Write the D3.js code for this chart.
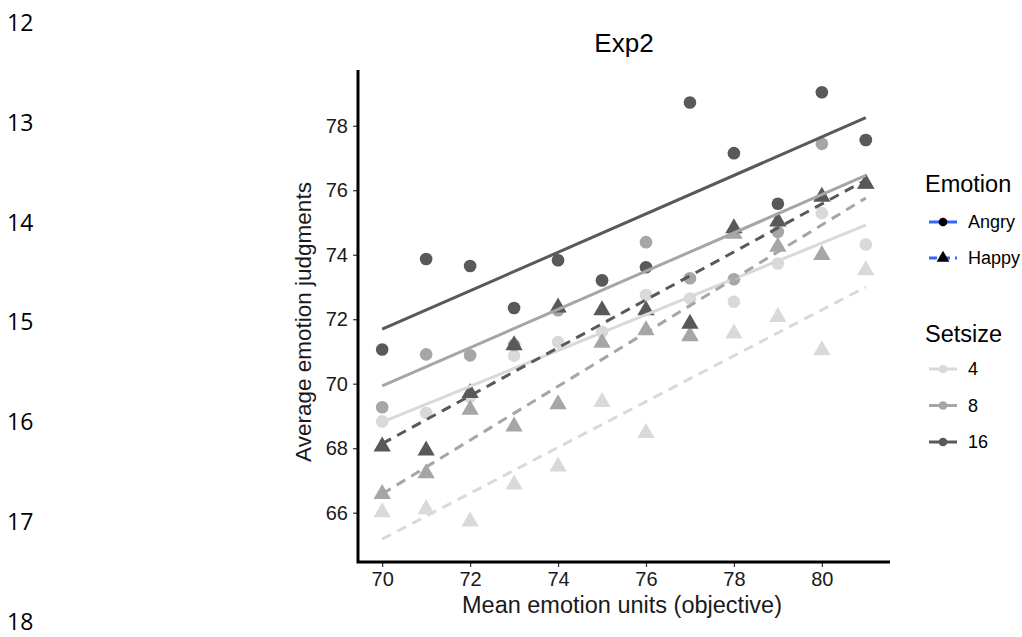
<!DOCTYPE html>
<html>
<head>
<meta charset="utf-8">
<script src="https://cdn.jsdelivr.net/npm/d3@7"></script>
<style>
  body { margin: 0; background: #fff; }
  svg { display: block; font-family: "Liberation Sans", Arial, sans-serif; }
</style>
</head>
<body>
<svg id="chart" width="1022" height="637"></svg>
<script>
// mean emotion units shown on each trial set
const xValues = [70, 71, 72, 73, 74, 75, 76, 77, 78, 79, 80, 81];

// average judgments
const angry4  = [68.83, 69.09, 69.59, 70.87, 71.29, 71.61, 72.75, 72.64, 72.54, 73.73, 75.29, 74.32];
const angry8  = [69.27, 70.91, 70.88, 71.20, 72.28, 73.20, 74.39, 73.27, 73.24, 74.71, 77.44, 77.56];
const angry16 = [71.06, 73.87, 73.65, 72.35, 73.83, 73.21, 73.61, 78.72, 77.15, 75.58, 79.04, 77.56];
const happy4  = [66.01, 66.11, 65.73, 66.87, 67.43, 69.43, 68.47, 71.50, 71.56, 72.07, 71.04, 73.52];
const happy8  = [66.58, 67.22, 69.19, 68.67, 69.36, 71.27, 71.66, 71.47, 74.65, 74.25, 73.99, 76.20];
const happy16 = [68.05, 67.93, 69.71, 71.19, 72.36, 72.28, 72.28, 71.86, 74.82, 75.03, 75.80, 76.20];

// fitted lines (value at x = 70 and at x = 81)
const fitEmotion = ['Angry', 'Angry', 'Angry', 'Happy', 'Happy', 'Happy'];
const fitSetsize = ['4', '8', '16', '4', '8', '16'];
const fitY70 = [68.81, 69.93, 71.69, 65.18, 66.58, 68.14];
const fitY81 = [74.92, 76.46, 78.25, 73.00, 75.76, 76.32];

const setsizes = ['4', '8', '16'];
const emotions = ['Angry', 'Happy'];
const xTicks = [70, 72, 74, 76, 78, 80];
const yTicks = [66, 68, 70, 72, 74, 76, 78];
const pageLines = ['12', '13', '14', '15', '16', '17', '18'];

const series = [
  { emotion: 'Angry', setsize: '4',  values: angry4 },
  { emotion: 'Angry', setsize: '8',  values: angry8 },
  { emotion: 'Angry', setsize: '16', values: angry16 },
  { emotion: 'Happy', setsize: '4',  values: happy4 },
  { emotion: 'Happy', setsize: '8',  values: happy8 },
  { emotion: 'Happy', setsize: '16', values: happy16 },
];

const svg = d3.select('#chart');
const panel = { left: 358, right: 890, top: 70, bottom: 562 };

const x = d3.scaleLinear().domain([69.45, 81.55]).range([panel.left, panel.right]);
const y = d3.scaleLinear().domain([64.47, 79.73]).range([panel.bottom, panel.top]);
const grey = d3.scaleOrdinal().domain(setsizes).range(['#d9d9d9', '#a6a6a6', '#595959']);
const dash = d => d === 'Happy' ? '10,7' : null;

// page line numbers from the document margin
svg.append('g').selectAll('text')
  .data(pageLines)
  .join('text')
  .attr('x', 7)
  .attr('y', (d, i) => 31 + i * 99.8)
  .attr('font-family', '"Open Sans", sans-serif')
  .attr('font-size', 23)
  .attr('fill', '#000')
  .text(d => d);

// points: circles for Angry, triangles for Happy
const circle = d3.symbol().type(d3.symbolCircle).size(125);
const tri = d3.symbol().type(d3.symbolTriangle).size(130);
const pts = series.flatMap(s => s.values.map((v, i) => ({ ...s, x: xValues[i], y: v })));
const g = svg.append('g');
g.selectAll('.pt')
  .data(pts)
  .join('path')
  .attr('class', 'pt')
  .attr('transform', d => `translate(${x(d.x)},${y(d.y)})`)
  .attr('d', d => d.emotion === 'Angry' ? circle() : tri())
  .attr('fill', d => grey(d.setsize));

// regression lines on top
const fits = fitEmotion.map((e, i) => ({ emotion: e, setsize: fitSetsize[i], y0: fitY70[i], y1: fitY81[i] }));
g.selectAll('.fit')
  .data(fits)
  .join('line')
  .attr('class', 'fit')
  .attr('x1', x(70)).attr('x2', x(81))
  .attr('y1', d => y(d.y0)).attr('y2', d => y(d.y1))
  .attr('stroke', d => grey(d.setsize))
  .attr('stroke-width', 3)
  .attr('stroke-dasharray', d => dash(d.emotion));

// axes
const xAxis = svg.append('g')
  .attr('transform', `translate(0,${panel.bottom})`)
  .call(d3.axisBottom(x).tickValues(xTicks).tickSize(5).tickPadding(5));
const yAxis = svg.append('g')
  .attr('transform', `translate(${panel.left},0)`)
  .call(d3.axisLeft(y).tickValues(yTicks).tickSize(5).tickPadding(5));
[xAxis, yAxis].forEach(a => {
  a.select('.domain').remove();
  a.selectAll('line').attr('stroke', '#333').attr('stroke-width', 1.2);
  a.selectAll('text').attr('font-size', 20).attr('fill', '#1a1a1a')
    .attr('font-family', '"Liberation Sans", Arial, sans-serif');
});
svg.append('path')
  .attr('d', `M${panel.left},${panel.top}V${panel.bottom}H${panel.right}`)
  .attr('fill', 'none')
  .attr('stroke', '#000')
  .attr('stroke-width', 3);

// titles
svg.append('text')
  .attr('x', 624).attr('y', 52)
  .attr('text-anchor', 'middle').attr('font-size', 26)
  .text('Exp2');
svg.append('text')
  .attr('x', 622).attr('y', 613)
  .attr('text-anchor', 'middle').attr('font-size', 23.5).attr('fill', '#1a1a1a')
  .text('Mean emotion units (objective)');
svg.append('text')
  .attr('transform', `translate(311,${(panel.top + panel.bottom) / 2 + 6}) rotate(-90)`)
  .attr('text-anchor', 'middle').attr('font-size', 22.5).attr('fill', '#1a1a1a')
  .text('Average emotion judgments');

// legends
const leg = svg.append('g').attr('transform', 'translate(925,0)');
leg.append('text').attr('x', 0).attr('y', 192).attr('font-size', 23.5).text('Emotion');
const eItems = leg.selectAll('.ekey')
  .data(emotions)
  .join('g')
  .attr('class', 'ekey')
  .attr('transform', (d, i) => `translate(0,${222 + i * 36})`);
eItems.append('line')
  .attr('x1', 4).attr('x2', 32)
  .attr('stroke', '#3366ff').attr('stroke-width', 3)
  .attr('stroke-dasharray', d => d === 'Happy' ? '8,5' : null);
eItems.append('path')
  .attr('transform', 'translate(18,0)')
  .attr('d', d => d === 'Angry' ? d3.symbol().type(d3.symbolCircle).size(60)() : d3.symbol().type(d3.symbolTriangle).size(70)())
  .attr('fill', '#000');
eItems.append('text').attr('x', 43).attr('dy', '0.35em').attr('font-size', 18).text(d => d);

leg.append('text').attr('x', 0).attr('y', 342).attr('font-size', 23.5).text('Setsize');
const sItems = leg.selectAll('.skey')
  .data(setsizes)
  .join('g')
  .attr('class', 'skey')
  .attr('transform', (d, i) => `translate(0,${369 + i * 36.5})`);
sItems.append('line')
  .attr('x1', 4).attr('x2', 32)
  .attr('stroke', d => grey(d)).attr('stroke-width', 3);
sItems.append('path')
  .attr('transform', 'translate(18,0)')
  .attr('d', circle.size(60)())
  .attr('fill', d => grey(d));
sItems.append('text').attr('x', 43).attr('dy', '0.35em').attr('font-size', 18).text(d => d);
</script>
</body>
</html>
